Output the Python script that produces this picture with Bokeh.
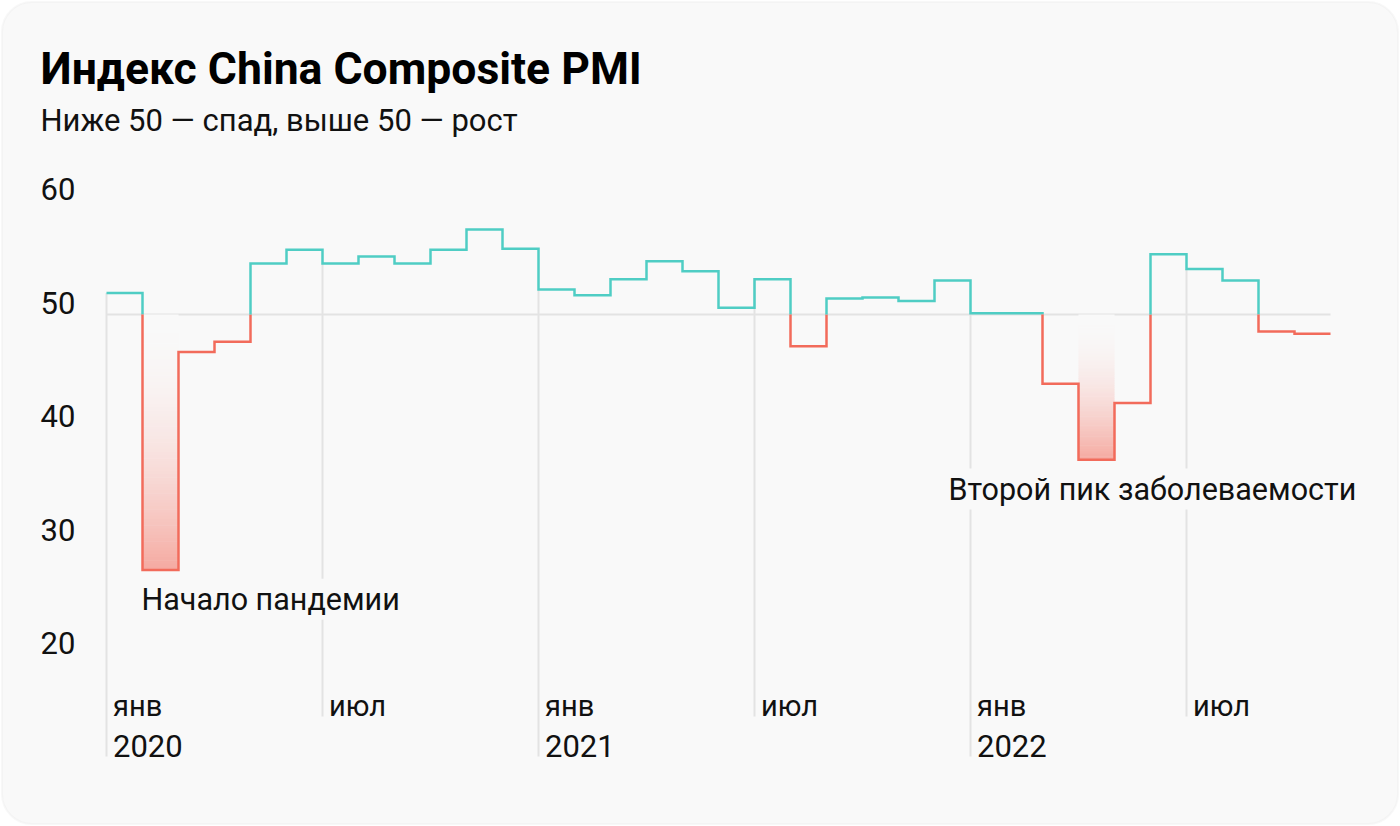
from bokeh.plotting import figure
from bokeh.models import Range1d, BoxAnnotation, Label
from bokeh.core.properties import value
from bokeh.embed import file_html
from bokeh.resources import INLINE

# ---------------- data ----------------
months = ["2020-01", "2020-02", "2020-03", "2020-04", "2020-05", "2020-06",
          "2020-07", "2020-08", "2020-09", "2020-10", "2020-11", "2020-12",
          "2021-01", "2021-02", "2021-03", "2021-04", "2021-05", "2021-06",
          "2021-07", "2021-08", "2021-09", "2021-10", "2021-11", "2021-12",
          "2022-01", "2022-02", "2022-03", "2022-04", "2022-05", "2022-06",
          "2022-07", "2022-08", "2022-09", "2022-10"]
pmi = [51.9, 27.5, 46.7, 47.6, 54.5, 55.7, 54.5, 55.1, 54.5, 55.7, 57.5, 55.8,
       52.2, 51.7, 53.1, 54.7, 53.8, 50.6, 53.1, 47.2, 51.4, 51.5, 51.2, 53.0,
       50.1, 50.1, 43.9, 37.2, 42.2, 55.3, 54.0, 53.0, 48.5, 48.3]
threshold = 50
y_tick_values = [60, 50, 40, 30, 20]
x_tick_index = [0, 6, 12, 18, 24, 30]
x_tick_month = ["янв", "июл", "янв", "июл", "янв", "июл"]
x_tick_year = ["2020", "", "2021", "", "2022", ""]
highlight_index = [1, 27]
annotation_index = [1, 27]
annotation_text = ["Начало пандемии", "Второй пик заболеваемости"]

title_text = "Индекс China Composite PMI"
subtitle_text = "Ниже 50 — спад, выше 50 — рост"

# ---------------- layout / style ----------------
W, H = 1400, 826
PAGE_OFF = 0
X0_PX = 106.0          # page px of month 0
PX_MONTH = 36.0
Y50_PX = 314.0         # page px of value 50
PX_UNIT = 11.35

TEAL = "#4fcdc4"
RED = "#f26b5b"
BG = "#f9f9f9"
GRID = "#e3e3e3"
FONT = "Roboto"
TXT = "#111111"
SHIFT = 0.35           # baseline correction, in em


def px_x(X):
    return (X - X0_PX) / PX_MONTH


def px_y(Y):
    return threshold - (Y - Y50_PX) / PX_UNIT


def lift(fs):
    return SHIFT * fs / PX_UNIT


p = figure(width=W, height=H, output_backend="svg", toolbar_location=None,
           x_axis_type=None, y_axis_type=None, min_border=0,
           x_range=Range1d(px_x(PAGE_OFF), px_x(PAGE_OFF + W)),
           y_range=Range1d(px_y(PAGE_OFF + H), px_y(PAGE_OFF)))
p.outline_line_color = None
p.background_fill_color = "white"
p.border_fill_color = "white"
p.grid.visible = False

# card
card = BoxAnnotation(left=px_x(PAGE_OFF + 1.5), right=px_x(PAGE_OFF + W - 2.5),
                     top=px_y(PAGE_OFF + 1.5), bottom=px_y(PAGE_OFF + H - 2.5),
                     fill_color=BG, fill_alpha=1, line_color="#e9e9e9",
                     line_width=2, border_radius=30, level="underlay")
p.add_layout(card)

# vertical grid drops (from month value down to below labels)
gx = [float(i) for i in x_tick_index]
gy0 = [pmi[i] for i in x_tick_index]
gy1 = [px_y(756) if yr else px_y(716) for yr in x_tick_year]
p.segment(x0=gx, y0=gy0, x1=gx, y1=gy1, line_color=GRID, line_width=2)

# threshold line
p.segment(x0=[0], y0=[threshold], x1=[len(pmi)], y1=[threshold],
          line_color=GRID, line_width=2)


# gradient fills for highlighted months
def blend(t):
    a = 0.56 * t ** 2
    bg = (249, 249, 249)
    rd = (242, 107, 91)
    c = [round(bg[j] * (1 - a) + rd[j] * a) for j in range(3)]
    return "#%02x%02x%02x" % tuple(c)


ql, qr, qt, qb, qc = [], [], [], [], []
n = 80
for i in highlight_index:
    v = pmi[i]
    for k in range(n):
        t0 = k / n
        t1 = (k + 1) / n
        ql.append(i)
        qr.append(i + 1)
        qt.append(threshold - (threshold - v) * t0)
        qb.append(threshold - (threshold - v) * t1 - 0.05 if k < n - 1 else v)
        qc.append(blend((t0 + t1) / 2))
p.quad(left=ql, right=qr, top=qt, bottom=qb, fill_color=qc, line_color=None)

# step line split by threshold
pts = []
for i, v in enumerate(pmi):
    pts.append((i, v))
    pts.append((i + 1, v))
pieces = []
for (x0, y0), (x1, y1) in zip(pts[:-1], pts[1:]):
    if (y0 >= threshold) == (y1 >= threshold):
        pieces.append(((x0, y0), (x1, y1), y0 >= threshold))
    else:
        pieces.append(((x0, y0), (x1, threshold), y0 >= threshold))
        pieces.append(((x0, threshold), (x1, y1), y1 >= threshold))
xs, ys, cols = [], [], []
cur = None
for a, b, above in pieces:
    if cur is None or cur[2] != above:
        if cur is not None:
            xs.append(cur[0]); ys.append(cur[1]); cols.append(TEAL if cur[2] else RED)
        cur = ([a[0], b[0]], [a[1], b[1]], above)
    else:
        cur[0].append(b[0]); cur[1].append(b[1])
xs.append(cur[0]); ys.append(cur[1]); cols.append(TEAL if cur[2] else RED)
p.multi_line(xs=xs, ys=ys, line_color=cols, line_width=2.5,
             line_join="miter", line_cap="butt")

# y tick labels
p.text(x=[px_x(40)] * len(y_tick_values),
       y=[v + 1 / PX_UNIT + lift(31) for v in y_tick_values],
       text=[str(v) for v in y_tick_values], text_font=value(FONT),
       text_font_size="31px", text_color=TXT, text_baseline="alphabetic",
       text_align="left")

# x tick labels
p.text(x=[i + 6.5 / PX_MONTH for i in x_tick_index],
       y=[px_y(716) + lift(29)] * len(x_tick_index),
       text=x_tick_month, text_font=value(FONT), text_font_size="29px",
       text_color=TXT, text_baseline="alphabetic", text_align="left")
yr_x = [i + 6.5 / PX_MONTH for i, t in zip(x_tick_index, x_tick_year) if t]
yr_t = [t for t in x_tick_year if t]
p.text(x=yr_x, y=[px_y(756) + lift(31)] * len(yr_x), text=yr_t, text_font=value(FONT),
       text_font_size="31px", text_color=TXT, text_baseline="alphabetic",
       text_align="left")

# annotations
ann_dx_px = [-4, -133]
for idx, txt, dx in zip(annotation_index, annotation_text, ann_dx_px):
    lab = Label(x=idx + dx / PX_MONTH, y=pmi[idx] - 40 / PX_UNIT + lift(30.5), text=txt,
                text_font=FONT, text_font_size="30.5px", text_color=TXT,
                text_baseline="alphabetic", text_align="left",
                background_fill_color=BG, background_fill_alpha=1.0,
                padding=3)
    p.add_layout(lab)

# title and subtitle
p.text(x=[px_x(40)], y=[px_y(84) + lift(44.5)], text=[title_text], text_font=value(FONT),
       text_font_size="44.5px", text_font_style="bold", text_color="#000000",
       text_baseline="alphabetic", text_align="left")
p.text(x=[px_x(40)], y=[px_y(131) + lift(31)], text=[subtitle_text], text_font=value(FONT),
       text_font_size="31px", text_color=TXT, text_baseline="alphabetic",
       text_align="left")

open("out.html", "w").write(file_html(p, INLINE))
